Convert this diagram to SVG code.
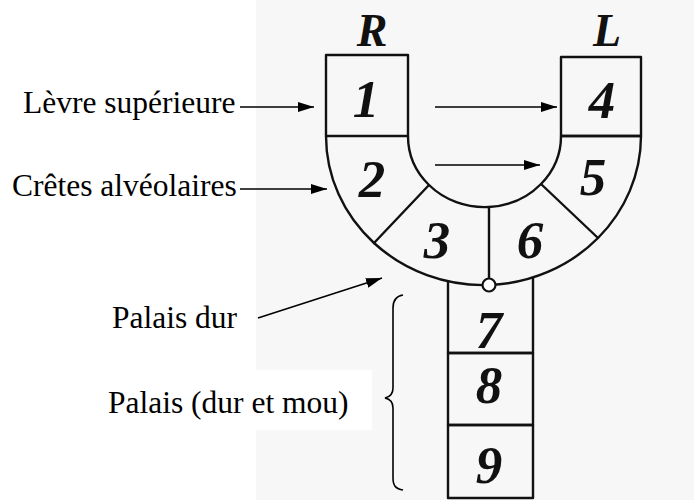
<svg xmlns="http://www.w3.org/2000/svg" width="694" height="500" viewBox="0 0 694 500">
  <defs>
    <marker id="ah" viewBox="0 0 16 10" refX="16" refY="5" markerWidth="16" markerHeight="10" markerUnits="userSpaceOnUse" orient="auto">
      <path d="M0,0 L16,5 L0,10 Z" fill="#000"/>
    </marker>
    <style>
      .ln{fill:none;stroke:#111;stroke-width:2.4;stroke-linejoin:round}
      .ar{fill:none;stroke:#000;stroke-width:1.6;marker-end:url(#ah)}
      .lbl{font-family:"Liberation Serif","Times New Roman",serif;font-size:31.5px;fill:#000}
      .num{font-family:"Liberation Serif","Times New Roman",serif;font-size:53px;font-weight:bold;font-style:italic;fill:#111;text-anchor:middle}
      .side{font-size:46px}
    </style>
  </defs>
  <rect width="694" height="500" fill="#fff"/>
  <rect x="256" y="0" width="438" height="500" fill="#f7f7f7"/>
  <rect x="100" y="370" width="272" height="60" fill="#fff"/>

  <g id="side-labels">
    <text class="num side" x="372" y="46">R</text>
    <text class="num side" x="607" y="46">L</text>
  </g>

  <g id="region-1">
    <path class="ln" d="M326,136 L326,55 L408,55 L408,136 Z"/>
    <text class="num" x="366" y="117">1</text>
  </g>
  <g id="region-4">
    <path class="ln" d="M561,136 L561,57 L641,57 L641,136 Z"/>
    <text class="num" x="602" y="118">4</text>
  </g>
  <g id="region-2">
    <path class="ln" d="M326,136 A157.5,149 0 0 0 374,243 L429,185 A76.5,71 0 0 1 408,136"/>
    <text class="num" x="372" y="197">2</text>
  </g>
  <g id="region-3">
    <path class="ln" d="M374,243 A157.5,149 0 0 0 489,285 L489,207 A76.5,71 0 0 1 429,185"/>
    <text class="num" x="437" y="258">3</text>
  </g>
  <g id="region-6">
    <path class="ln" d="M489,285 A157.5,149 0 0 0 598,238 L541,184 A76.5,71 0 0 1 489,207"/>
    <text class="num" x="530" y="258">6</text>
  </g>
  <g id="region-5">
    <path class="ln" d="M598,238 A157.5,149 0 0 0 641,136 L561,136 A76.5,71 0 0 1 541,184"/>
    <text class="num" x="593" y="195">5</text>
  </g>
  <g id="region-7">
    <path class="ln" d="M448,281 L448,353 L533,353 L533,277"/>
    <text class="num" x="489" y="348">7</text>
  </g>
  <g id="region-8">
    <rect class="ln" x="448" y="353" width="85" height="72"/>
    <text class="num" x="489" y="403">8</text>
  </g>
  <g id="region-9">
    <rect class="ln" x="448" y="425" width="85" height="73"/>
    <text class="num" x="489" y="483">9</text>
  </g>
  <g id="junction">
    <circle cx="489" cy="285" r="6.5" fill="#fff" stroke="#111" stroke-width="2.2"/>
  </g>

  <g id="labels">
    <text class="lbl" x="23" y="113">Lèvre supérieure</text>
    <text class="lbl" x="12" y="196">Crêtes alvéolaires</text>
    <text class="lbl" x="112" y="328">Palais dur</text>
    <text class="lbl" x="108" y="413">Palais (dur et mou)</text>
  </g>

  <g id="connectors">
    <line class="ar" x1="240" y1="107" x2="314" y2="107"/>
    <line class="ar" x1="240" y1="189" x2="327" y2="189"/>
    <line class="ar" x1="258" y1="318" x2="382" y2="278"/>
    <line class="ar" x1="435" y1="107" x2="557" y2="107"/>
    <line class="ar" x1="435" y1="165" x2="540" y2="165"/>
    <path d="M403,295 C396,296 393,300 393,308 L393,388 C393,394 390,397 385,398 C390,399 393,402 393,408 L393,478 C393,486 396,489 403,490" fill="none" stroke="#000" stroke-width="1.6"/>
  </g>
</svg>
